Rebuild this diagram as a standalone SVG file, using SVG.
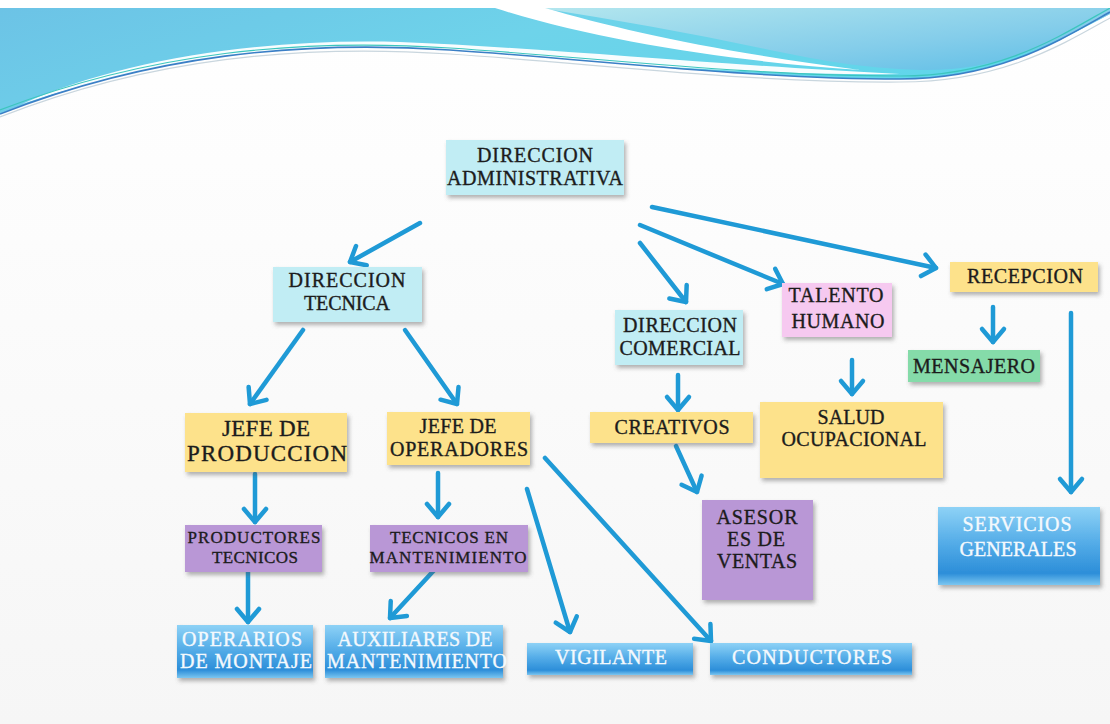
<svg xmlns="http://www.w3.org/2000/svg" width="1110" height="724" viewBox="0 0 1110 724">
<defs>
<linearGradient id="page" x1="0" y1="0" x2="0" y2="1"><stop offset="0" stop-color="#ffffff"/><stop offset="1" stop-color="#f6f6f6"/></linearGradient>
<linearGradient id="cyanL" x1="0" y1="0" x2="1" y2="0.3"><stop offset="0" stop-color="#6cc3e6"/><stop offset="0.5" stop-color="#6ed3ea"/><stop offset="1" stop-color="#5fd6ea"/></linearGradient>
<linearGradient id="cyanR" x1="0" y1="0" x2="1" y2="1"><stop offset="0" stop-color="#b3e6ee"/><stop offset="0.6" stop-color="#84cdea"/><stop offset="1" stop-color="#5cbde6"/></linearGradient>
<linearGradient id="blueBox" x1="0" y1="0" x2="0" y2="1"><stop offset="0" stop-color="#8ed2f6"/><stop offset="0.45" stop-color="#55ade8"/><stop offset="0.85" stop-color="#2c8ed9"/><stop offset="1" stop-color="#7cc6f0"/></linearGradient>
<filter id="sh" x="-10%" y="-10%" width="125%" height="135%"><feDropShadow dx="2" dy="3" stdDeviation="2" flood-color="#555" flood-opacity="0.45"/></filter>
<marker id="ah" viewBox="-18 -14 22 28" refX="0" refY="0" markerWidth="22" markerHeight="28" markerUnits="userSpaceOnUse" orient="auto" overflow="visible">
<path d="M-13,-11 L0,0 L-13,11" fill="none" stroke="#1f9ad6" stroke-width="4.5" stroke-linecap="round" stroke-linejoin="round"/>
</marker>
<style>
.t{font-family:"Liberation Serif","Times New Roman",serif;fill:#1c1c1c;stroke:#1c1c1c;stroke-width:0.35;text-anchor:middle;font-size:20px}
.s{font-size:17px}
.l{font-size:23px}
.w{fill:#f4f9fd;stroke:#f4f9fd}
.c{fill:#c1edf4}
.y{fill:#fde28b}
.p{fill:#f6c9f0}
.v{fill:#b997d6}
.g{fill:#85dba9}
.b{fill:url(#blueBox)}
.n rect{filter:url(#sh)}
#connectors line{stroke:#1f9ad6;stroke-width:4.5;stroke-linecap:round;marker-end:url(#ah)}
</style>
</defs>

<!-- background & banner -->
<rect width="1110" height="724" fill="url(#page)"/>
<path d="M0,8 H1110 V14 C1060,40 1000,78 900,79 C750,79 600,60 450,50 C300,40 150,55 0,114 Z" fill="url(#cyanL)"/>
<path d="M540,8 H1110 V14 C1060,40 1000,72 920,70 C860,68 820,60 780,52 C700,35 620,20 540,8 Z" fill="url(#cyanR)"/>
<path d="M495,8 L545,8 C620,30 720,52 860,70 C740,62 600,42 495,8 Z" fill="#ffffff"/>
<path d="M22,104 C120,60 260,38 400,42 C550,48 700,64 900,74 C760,76 600,62 450,52 C300,42 160,58 22,104 Z" fill="#ffffff" opacity="0.95"/>
<path d="M0,114 C150,55 300,40 450,50 C600,60 750,79 900,79 C1000,79 1060,40 1110,12" fill="none" stroke="#3b7fc6" stroke-width="1.6"/>
<path d="M0,110 C150,52 300,38 450,48 C600,58 750,76 900,76 C1000,76 1060,36 1110,8" fill="none" stroke="#3cc6be" stroke-width="1.2"/>
<path d="M0,117 C150,58 300,44 450,54 C600,64 750,83 900,82 C1000,82 1060,46 1110,18" fill="none" stroke="#c9d6de" stroke-width="1.2"/>
<rect x="0" y="0" width="1110" height="8" fill="#ffffff"/>

<g id="connectors">
<line x1="420" y1="223" x2="350" y2="262"/>
<line x1="640" y1="243" x2="686" y2="302"/>
<line x1="640" y1="225" x2="783" y2="284"/>
<line x1="652" y1="207" x2="936" y2="268"/>
<line x1="303" y1="330" x2="250" y2="404"/>
<line x1="405" y1="330" x2="457" y2="404"/>
<line x1="255" y1="474" x2="255" y2="522"/>
<line x1="438" y1="473" x2="438" y2="517"/>
<line x1="527" y1="489" x2="570" y2="632"/>
<line x1="545" y1="458" x2="711" y2="641"/>
<line x1="248" y1="572" x2="248" y2="622"/>
<line x1="438" y1="566" x2="390" y2="618"/>
<line x1="678" y1="375" x2="678" y2="410"/>
<line x1="676" y1="446" x2="697" y2="492"/>
<line x1="852" y1="360" x2="852" y2="394"/>
<line x1="993" y1="307" x2="993" y2="342"/>
<line x1="1071" y1="313" x2="1071" y2="492"/>
</g>

<g id="direccion-administrativa" class="n"><rect class="c" x="446" y="140" width="178" height="55"/>
<text class="t" x="535" y="162" textLength="116">DIRECCION</text><text class="t" x="535" y="185" textLength="176">ADMINISTRATIVA</text></g>

<g id="direccion-tecnica" class="n"><rect class="c" x="273" y="267" width="149" height="55"/>
<text class="t" x="347" y="287" textLength="117">DIRECCION</text><text class="t" x="347" y="310" textLength="86">TECNICA</text></g>

<g id="direccion-comercial" class="n"><rect class="c" x="615" y="310" width="128" height="55"/>
<text class="t" x="680" y="332" textLength="114">DIRECCION</text><text class="t" x="680" y="355" textLength="121">COMERCIAL</text></g>

<g id="talento-humano" class="n"><rect class="p" x="782" y="283" width="110" height="54"/>
<text class="t" x="836" y="302" textLength="95">TALENTO</text><text class="t" x="838" y="328" textLength="93">HUMANO</text></g>

<g id="recepcion" class="n"><rect class="y" x="950" y="262" width="148" height="30"/>
<text class="t" x="1025" y="283" textLength="116">RECEPCION</text></g>

<g id="mensajero" class="n"><rect class="g" x="908" y="350" width="132" height="32"/>
<text class="t" x="974" y="373" textLength="122">MENSAJERO</text></g>

<g id="jefe-de-produccion" class="n"><rect class="y" x="185" y="413" width="162" height="59"/>
<text class="t l" x="266" y="436" textLength="88">JEFE DE</text><text class="t l" x="267" y="461" textLength="160">PRODUCCION</text></g>

<g id="jefe-de-operadores" class="n"><rect class="y" x="387" y="412" width="143" height="53"/>
<text class="t" x="458" y="433" textLength="77">JEFE DE</text><text class="t" x="459" y="456" textLength="138">OPERADORES</text></g>

<g id="productores-tecnicos" class="n"><rect class="v" x="185" y="525" width="137" height="47"/>
<text class="t s" x="254" y="543" textLength="133">PRODUCTORES</text><text class="t s" x="255" y="563" textLength="86">TECNICOS</text></g>

<g id="tecnicos-en-mantenimiento" class="n"><rect class="v" x="370" y="525" width="158" height="47"/>
<text class="t s" x="449" y="543" textLength="118">TECNICOS EN</text><text class="t s" x="448" y="563" textLength="157">MANTENIMIENTO</text></g>

<g id="creativos" class="n"><rect class="y" x="590" y="412" width="163" height="31"/>
<text class="t" x="672" y="434" textLength="115">CREATIVOS</text></g>

<g id="salud-ocupacional" class="n"><rect class="y" x="760" y="402" width="183" height="76"/>
<text class="t" x="851" y="424" textLength="67">SALUD</text><text class="t" x="854" y="446" textLength="145">OCUPACIONAL</text></g>

<g id="asesores-de-ventas" class="n"><rect class="v" x="702" y="500" width="111" height="100"/>
<text class="t" x="757" y="524" textLength="81">ASESOR</text><text class="t" x="756" y="546" textLength="58">ES DE</text><text class="t" x="757" y="568" textLength="80">VENTAS</text></g>

<g id="servicios-generales" class="n"><rect class="b" x="938" y="507" width="162" height="78"/>
<text class="t w" x="1017" y="531" textLength="109">SERVICIOS</text><text class="t w" x="1018" y="556" textLength="117">GENERALES</text></g>

<g id="operarios-de-montaje" class="n"><rect class="b" x="177" y="625" width="136" height="53"/>
<text class="t w" x="242" y="646" textLength="120">OPERARIOS</text><text class="t w" x="246" y="668" textLength="132">DE MONTAJE</text></g>

<g id="auxiliares-de-mantenimiento" class="n"><rect class="b" x="325" y="625" width="178" height="53"/>
<text class="t w" x="415" y="646" textLength="155">AUXILIARES DE</text><text class="t w" x="417" y="668" textLength="180">MANTENIMIENTO</text></g>

<g id="vigilante" class="n"><rect class="b" x="527" y="643" width="166" height="32"/>
<text class="t w" x="611" y="664" textLength="112">VIGILANTE</text></g>

<g id="conductores" class="n"><rect class="b" x="710" y="643" width="202" height="32"/>
<text class="t w" x="812" y="664" textLength="160">CONDUCTORES</text></g>
</svg>
